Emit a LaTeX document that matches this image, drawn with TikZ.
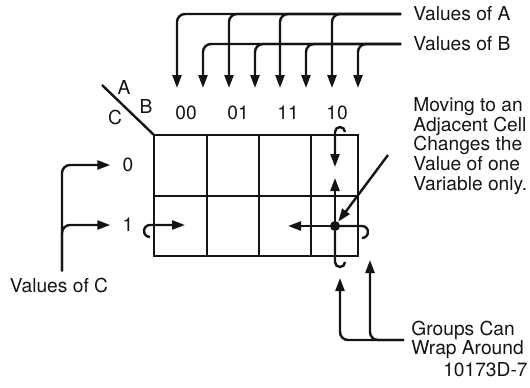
\documentclass[tikz,border=0pt]{standalone}
\usepackage{fontspec}
\setmainfont{TeX Gyre Heros}
\usetikzlibrary{arrows.meta}
\definecolor{Ink}{HTML}{141414}
\tikzset{tag/.style={font=\fontsize{9.6}{9.8}\selectfont,text=Ink,inner sep=3pt},
  note/.style={tag,align=left,anchor=west,inner xsep=6pt,inner ysep=0pt},
  wire/.style={line width=1.2pt,draw=Ink},
  link/.style={wire,-{Triangle[length=6.5pt,width=4.5pt]}},
  dot/.style={circle,fill=Ink,inner sep=0pt,minimum size=5pt}}

\begin{document}
\begin{tikzpicture}[x=0.5pt,y=-0.5pt]
\useasboundingbox (0,0) rectangle (530,387);
% map
\draw[wire] (154,135) rectangle (358,256);
\draw[wire] (154,196) -- (358,196);
\foreach \x in {207,259,311} \draw[wire] (\x,135) -- (\x,256);
\draw[wire] (102,85) -- (154,135);
\node[tag] (la) at (124,87) {A};
\node[tag] (lb) at (146,106) {B};
\node[tag] (lc) at (115,117) {C};
\foreach \t/\x [count=\i] in {00/186,01/238,11/288,10/337}
  \node[tag] (c\i) at (\x,113) {\t};
\node[tag] (r0) at (128,165) {0};
\node[tag] (r1) at (128,225) {1};
% values of A and B
\node[note] (va) at (401,14) {Values of A};
\node[note] (vb) at (401,44) {Values of B};
\foreach \x [count=\i] in {177,229,280,332} {
  \coordinate (ta\i) at (\x,88);
  \draw[link,rounded corners=4pt] (va.west) -| (ta\i);}
\foreach \x [count=\i] in {203,255,306,358} {
  \coordinate (tb\i) at (\x,88);
  \draw[link,rounded corners=4pt] (vb.west) -| (tb\i);}
% values of C
\node[tag] (vc) at (59,285) {Values of C};
\draw[link,rounded corners=4pt] ([xshift=1.5pt]vc.north) |- ([xshift=-3pt]r0.west);
\draw[link,rounded corners=4pt] ([xshift=1.5pt]vc.north) |- ([xshift=-3pt]r1.west);
% adjacent cells
\node[note] (mv) at (401,146) {Moving to an\\Adjacent Cell\\Changes the\\Value of one\\Variable only.};
\coordinate (mvp) at (388,155);
\node[dot] (dt) at (335,226) {};
\coordinate (up) at (335,178);
\coordinate (lt) at (288,226);
\draw[link] (dt.center) -- (up);
\draw[link] (dt.center) -- (lt);
\draw[link] (mvp) -- (dt);
% wrap around
\draw[wire] (dt.center) -- (362,226) arc[start angle=90,end angle=-90,radius=3pt];
\draw[wire] (dt.center) -- (335,262) arc[start angle=180,end angle=360,radius=2.5pt];
\draw[link] (345,132) arc[start angle=0,end angle=180,radius=2.5pt] -- (335,167);
\draw[link] (150,237) arc[start angle=-90,end angle=-270,radius=3pt] -- (185,225);
\node[note,inner xsep=3.5pt] (gr) at (404,340) {Groups Can\\Wrap Around};
\coordinate (g1) at (340,278);
\coordinate (g2) at (370,260);
\draw[link,rounded corners=4pt] (gr.west) -| (g1);
\draw[link,rounded corners=4pt] (gr.west) -| (g2);
\node[tag,anchor=east,inner sep=0pt] (fig) at (528,370) {10173D-7};
\end{tikzpicture}
\end{document}
